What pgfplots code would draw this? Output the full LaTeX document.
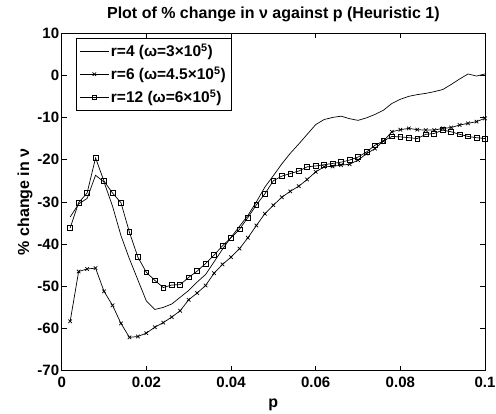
\documentclass[border=0pt]{standalone}
\usepackage{fontspec}
\setmainfont{Liberation Sans}
\usepackage{pgfplots}
\usepackage{pgfplotstable}
\pgfplotsset{compat=1.18}
\pgfplotstableread{
p v
0.002 -33.6
0.004 -30.5
0.006 -29.2
0.008 -23.7
0.010 -25.3
0.012 -31.0
0.014 -38.0
0.016 -43.5
0.018 -48.5
0.020 -53.5
0.022 -55.5
0.024 -55.0
0.026 -54.2
0.028 -52.6
0.030 -51.0
0.032 -49.0
0.034 -47.2
0.036 -44.2
0.038 -41.2
0.040 -38.4
0.042 -35.8
0.044 -33.2
0.046 -30.0
0.048 -26.5
0.050 -23.8
0.052 -21.0
0.054 -18.5
0.056 -16.3
0.058 -14.0
0.060 -11.7
0.062 -10.5
0.064 -10.0
0.066 -9.7
0.068 -10.3
0.070 -10.7
0.072 -10.1
0.074 -9.3
0.076 -8.3
0.078 -6.7
0.080 -5.7
0.082 -5.0
0.084 -4.6
0.086 -4.3
0.088 -3.9
0.090 -3.4
0.092 -2.2
0.094 -0.9
0.096 0.3
0.098 -0.2
0.100 0.3
}\rfour
\pgfplotstableread{
p v
0.002 -58.3
0.004 -46.5
0.006 -45.9
0.008 -45.7
0.010 -51.2
0.012 -54.5
0.014 -58.8
0.016 -62.1
0.018 -61.9
0.020 -61.1
0.022 -59.7
0.024 -58.6
0.026 -57.3
0.028 -55.8
0.030 -53.2
0.032 -51.6
0.034 -49.8
0.036 -46.9
0.038 -44.8
0.040 -43.1
0.042 -41.1
0.044 -38.5
0.046 -35.6
0.048 -32.8
0.050 -30.8
0.052 -28.9
0.054 -27.5
0.056 -26.3
0.058 -24.7
0.060 -22.9
0.062 -21.7
0.064 -21.6
0.066 -21.3
0.068 -21.1
0.070 -20.1
0.072 -18.6
0.074 -17.4
0.076 -15.6
0.078 -13.4
0.080 -12.9
0.082 -12.6
0.084 -12.9
0.086 -13.0
0.088 -13.0
0.090 -12.6
0.092 -12.4
0.094 -11.8
0.096 -11.4
0.098 -11.0
0.100 -10.2
}\rsix
\pgfplotstableread{
p v
0.002 -36.2
0.004 -30.2
0.006 -27.9
0.008 -19.6
0.010 -25.1
0.012 -27.9
0.014 -30.2
0.016 -37.2
0.018 -43.1
0.020 -46.7
0.022 -48.6
0.024 -50.3
0.026 -49.7
0.028 -49.6
0.030 -47.9
0.032 -46.4
0.034 -44.6
0.036 -42.6
0.038 -40.4
0.040 -38.5
0.042 -36.5
0.044 -33.7
0.046 -30.7
0.048 -28.1
0.050 -25.0
0.052 -23.9
0.054 -23.3
0.056 -22.7
0.058 -21.7
0.060 -21.5
0.062 -21.2
0.064 -20.9
0.066 -20.6
0.068 -20.1
0.070 -19.4
0.072 -18.2
0.074 -16.6
0.076 -15.6
0.078 -14.5
0.080 -14.6
0.082 -14.8
0.084 -15.0
0.086 -14.0
0.088 -13.8
0.090 -13.0
0.092 -13.4
0.094 -14.0
0.096 -14.5
0.098 -14.8
0.100 -15.0
}\rtwelve
\begin{document}
\begin{tikzpicture}[x=1pt,y=1pt]
\path[use as bounding box] (0,0) rectangle (496,413);
\begin{axis}[
  at={(61.7pt,42.3pt)}, anchor=south west,
  scale only axis, width=423.3pt, height=337.7pt,
  xmin=0, xmax=0.1, ymin=-70, ymax=10,
  xtick={0,0.02,0.04,0.06,0.08,0.1},
  xticklabels={0,0.02,0.04,0.06,0.08,0.1},
  ytick={-70,-60,-50,-40,-30,-20,-10,0,10},
  yticklabels={-70,-60,-50,-40,-30,-20,-10,0,10},
  tick align=inside, tick pos=both,
  major tick length=5pt,
  axis line style={line width=0.8pt},
  tick style={line width=0.6pt, black},
  ticklabel style={font=\fontsize{15}{17}\selectfont\bfseries},
  xticklabel style={yshift=-3pt},
  yticklabel style={xshift=1pt},
  title={Plot of \% change in ν against p (Heuristic 1)},
  title style={font=\fontsize{16}{18}\selectfont\bfseries, yshift=2pt},
  xlabel={p}, ylabel={\% change in ν},
  label style={font=\fontsize{16}{18}\selectfont\bfseries},
  xlabel style={yshift=-4pt},
  ylabel style={yshift=-2pt},
  legend style={at={(0.0172,0.982)}, anchor=north west, xshift=7pt, yshift=1pt, draw=black, line width=0.6pt,
    fill=white, font=\fontsize{15.5}{17}\selectfont\bfseries, row sep=5pt,
    inner sep=3.5pt},
  legend cell align=left,
  legend image code/.code={\draw[mark repeat=2,mark phase=2,#1] plot coordinates {(0cm,0cm) (0.5cm,0cm) (1.0cm,0cm)};},
]
\addplot[black, line width=0.7pt] table[x=p,y=v] {\rfour};
\addlegendentry{r=4 (ω=3×10\textsuperscript{5})}
\addplot[black, line width=0.7pt, mark=x, mark size=2.5pt, mark options={line width=0.7pt}] table[x=p,y=v] {\rsix};
\addlegendentry{r=6 (ω=4.5×10\textsuperscript{5})}
\addplot[black, line width=0.7pt, mark=square, mark size=2.4pt, mark options={line width=0.7pt}] table[x=p,y=v] {\rtwelve};
\addlegendentry{r=12 (ω=6×10\textsuperscript{5})}
\end{axis}
\end{tikzpicture}
\end{document}
